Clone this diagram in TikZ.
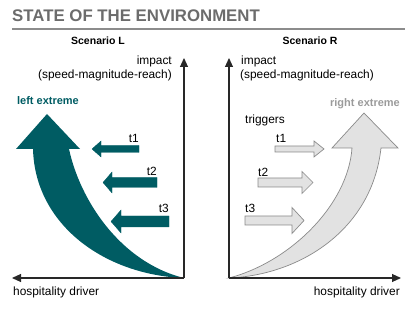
\documentclass[tikz,border=0pt]{standalone}
\usepackage{fontspec}
\setmainfont{Liberation Sans}
\usetikzlibrary{arrows.meta,positioning}
\definecolor{petrol}{RGB}{0,92,99}
\definecolor{titlegray}{RGB}{108,108,108}
\definecolor{rulegray}{RGB}{140,140,140}
\definecolor{lightfill}{RGB}{226,226,226}
\definecolor{edgegray}{RGB}{138,138,138}
\definecolor{axisgray}{RGB}{40,40,40}
\definecolor{extremegray}{RGB}{155,155,155}
% block arrow: [style]{tail x}{head base x}{tip x}{y}{half shaft}{half head}
\newcommand{\blockarrow}[7][]{%
  \filldraw[#1] (#2,#5-#6) -- (#3,#5-#6) -- (#3,#5-#7) -- (#4,#5)
    -- (#3,#5+#7) -- (#3,#5+#6) -- (#2,#5+#6) -- cycle;}
\begin{document}
\begin{tikzpicture}[x=1pt,y=-1pt,
every node/.style={inner sep=0pt,font=\fontsize{11.9}{14}\selectfont},
axis/.style={axisgray,line width=1.1pt,-{Triangle[length=9pt,width=8pt]}},
tealarrow/.style={fill=petrol,draw=petrol,line width=0.3pt},
grayarrow/.style={fill=lightfill,draw=edgegray,line width=0.7pt},
scen/.style={anchor=base,font=\bfseries\fontsize{10.5}{12}\selectfont},
extreme/.style={anchor=base,font=\bfseries\fontsize{11}{13}\selectfont}]
\useasboundingbox (0,0) rectangle (416,315);

% header
\node[anchor=base west,text=titlegray,font=\bfseries\fontsize{16.8}{19}\selectfont]
  (title) at (12,22) {STATE OF THE ENVIRONMENT};
\coordinate (ruleA) at (12,29);
\coordinate (ruleB) at (405,29);
\draw[rulegray,line width=1.5pt] (ruleA) -- (ruleB);
\node[scen] (scenL) at (98,45) {Scenario L};
\node[scen] (scenR) at (310,45) {Scenario R};

% scenario L
\coordinate (oL) at (184,278);
\coordinate (yL) at (184,58);
\coordinate (xL) at (12,278);
\fill[petrol] (oL) .. controls (105,275) and (35,225) .. (33,149) -- (16,149)
  -- (47,114) -- (80,149) -- (69,149) .. controls (80,200) and (120,262) .. (oL) -- cycle;
\draw[axis] (oL) -- (yL);
\draw[axis] (oL) -- (xL);
\node[anchor=base east] (impL) at (172,65) {impact};
\node[anchor=base east] (reachL) at (172,79) {(speed-magnitude-reach)};
\node[extreme,text=petrol] (extL) at (48,105) {left extreme};
\node[anchor=base west] (hospL) at (13,296) {hospitality driver};
\blockarrow[tealarrow]{139}{101}{92}{149}{3.5}{8}
\blockarrow[tealarrow]{157}{112}{103}{182.5}{5}{10.5}
\blockarrow[tealarrow]{169}{121}{111}{221.5}{5.5}{11.5}
\node[anchor=base east] (t1L) at (139,143) {t1};
\node[anchor=base east] (t2L) at (157,176) {t2};
\node[anchor=base east] (t3L) at (169,213) {t3};

% scenario R
\coordinate (oR) at (229,278);
\coordinate (yR) at (229,58);
\coordinate (xR) at (401,278);
\filldraw[grayarrow] (oR) .. controls (300,275) and (372,230) .. (381,148) -- (398,148)
  -- (364,113) -- (332,148) -- (352,148) .. controls (348,205) and (290,262) .. (oR) -- cycle;
\draw[axis] (oR) -- (yR);
\draw[axis] (oR) -- (xR);
\node[anchor=base west] (impR) at (241,65) {impact};
\node[anchor=base west] (reachR) at (240,79) {(speed-magnitude-reach)};
\node[extreme,text=extremegray] (extR) at (365,107) {right extreme};
\node[anchor=base east] (hospR) at (400,296) {hospitality driver};
\node[anchor=base west] (trig) at (245,124) {triggers};
\blockarrow[grayarrow]{275}{314}{324}{149}{3}{8}
\blockarrow[grayarrow]{258}{302}{313}{182.5}{4.5}{11}
\blockarrow[grayarrow]{245}{292}{304}{220.5}{4.5}{13}
\node[anchor=base west] (t1R) at (276,143) {t1};
\node[anchor=base west] (t2R) at (258,177) {t2};
\node[anchor=base west] (t3R) at (245,213) {t3};
\end{tikzpicture}
\end{document}
